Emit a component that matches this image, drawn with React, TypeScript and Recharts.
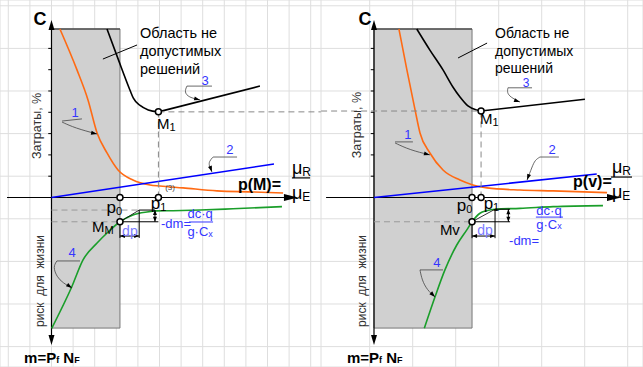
import React from "react";
import {
  ComposedChart,
  Line,
  XAxis,
  YAxis,
  CartesianGrid,
  ReferenceArea,
  ReferenceLine,
  ReferenceDot,
} from "recharts";

type P = { x: number; y: number };

// units: one grid cell; x = 0 on the cost axis, y = 0 on the p axis (cost up, risk down)

// ---- left panel: p(M) ----
const costM: P[] = [
  { x: 0.39, y: 7.91 }, { x: 1.18, y: 5.99 }, { x: 1.69, y: 4.58 }, { x: 2.11, y: 3.03 },
  { x: 2.57, y: 2.09 }, { x: 3.08, y: 1.29 }, { x: 3.77, y: 0.82 }, { x: 4.56, y: 0.59 },
  { x: 5.02, y: 0.54 }, { x: 6.09, y: 0.45 }, { x: 7.66, y: 0.31 }, { x: 9.33, y: 0.26 },
  { x: 10.72, y: 0.21 },
];
const totalM: P[] = [
  { x: 2.57, y: 7.91 }, { x: 3.1, y: 6.46 }, { x: 3.63, y: 5.05 }, { x: 3.79, y: 4.66 },
  { x: 4.1, y: 4.32 }, { x: 4.48, y: 4.11 }, { x: 4.95, y: 4.02 },
];
const totalMTail: P[] = [{ x: 4.95, y: 4.02 }, { x: 9.65, y: 5.23 }];
const ratioM: P[] = [{ x: 0, y: 0 }, { x: 10.3, y: 1.57 }];
const riskM: P[] = [
  { x: 0.01, y: -6.14 }, { x: 0.94, y: -4.19 }, { x: 1.46, y: -2.93 }, { x: 2.11, y: -2.14 },
  { x: 2.62, y: -1.62 }, { x: 3.17, y: -1.14 }, { x: 3.77, y: -0.82 }, { x: 4.42, y: -0.68 },
  { x: 4.88, y: -0.63 }, { x: 5.63, y: -0.62 }, { x: 6.88, y: -0.59 }, { x: 8.4, y: -0.53 },
  { x: 10.67, y: -0.43 },
];
// p0, p1, M_M, M1
const pointsM: P[] = [{ x: 3.17, y: 0 }, { x: 4.95, y: 0 }, { x: 3.17, y: -1.14 }, { x: 4.95, y: 4.02 }];

// ---- right panel: p(v) ----
const costV: P[] = [
  { x: 1.16, y: 7.91 }, { x: 1.53, y: 5.99 }, { x: 1.91, y: 4.11 }, { x: 2.14, y: 3.03 },
  { x: 2.6, y: 2.09 }, { x: 3.21, y: 1.29 }, { x: 4.0, y: 0.82 }, { x: 4.6, y: 0.59 },
  { x: 5.26, y: 0.45 }, { x: 6.79, y: 0.35 }, { x: 8.33, y: 0.31 }, { x: 10.84, y: 0.23 },
];
const totalV: P[] = [
  { x: 1.99, y: 7.91 }, { x: 2.6, y: 6.92 }, { x: 3.21, y: 5.99 }, { x: 3.67, y: 5.19 },
  { x: 4.0, y: 4.72 }, { x: 4.37, y: 4.3 }, { x: 4.78, y: 4.11 }, { x: 4.98, y: 4.06 },
];
const totalVTail: P[] = [{ x: 4.98, y: 4.06 }, { x: 9.81, y: 4.61 }];
const ratioV: P[] = [{ x: 0, y: 0 }, { x: 10.36, y: 1.1 }];
const riskV: P[] = [
  { x: 2.34, y: -6.14 }, { x: 2.84, y: -4.66 }, { x: 3.3, y: -3.4 }, { x: 3.85, y: -2.23 },
  { x: 4.31, y: -1.53 }, { x: 4.59, y: -1.1 }, { x: 4.93, y: -0.74 }, { x: 5.24, y: -0.62 },
  { x: 5.63, y: -0.55 }, { x: 6.79, y: -0.51 }, { x: 8.33, y: -0.43 }, { x: 10.65, y: -0.38 },
];
// p0, p1, Mv, M1
const pointsV: P[] = [{ x: 4.56, y: 0 }, { x: 4.98, y: 0 }, { x: 4.56, y: -1.14 }, { x: 4.98, y: 4.06 }];

// leader hooks for curve numbers 1..4
const hooksM: P[][] = [
  [{ x: 0.49, y: 3.54 }, { x: 1.09, y: 3.26 }, { x: 2.11, y: 2.98 }],
  [{ x: 7.48, y: 1.9 }, { x: 7.3, y: 1.7 }, { x: 7.29, y: 1.5 }, { x: 7.43, y: 1.2 }],
  [{ x: 6.27, y: 5.23 }, { x: 6.15, y: 4.95 }, { x: 6.35, y: 4.7 }, { x: 6.88, y: 4.58 }],
  [{ x: 0.25, y: -2.98 }, { x: 0.07, y: -3.26 }, { x: 0.25, y: -3.73 }, { x: 0.53, y: -4.01 }, { x: 0.95, y: -4.25 }],
];
const hooksV: P[][] = [
  [{ x: 0.98, y: 2.56 }, { x: 1.67, y: 2.23 }, { x: 2.6, y: 2.0 }],
  [{ x: 7.72, y: 1.9 }, { x: 7.49, y: 1.76 }, { x: 7.35, y: 1.43 }, { x: 7.12, y: 0.82 }],
  [{ x: 6.23, y: 5.15 }, { x: 6.19, y: 4.93 }, { x: 6.33, y: 4.72 }, { x: 6.79, y: 4.48 }],
  [{ x: 2.14, y: -3.4 }, { x: 2.23, y: -3.87 }, { x: 2.47, y: -4.34 }, { x: 2.84, y: -4.67 }],
];

const costTicks = [1, 2, 3, 4, 5, 6, 7];
const gridY = [-7, -6, -5, -4, -3, -2, -1, 0, 1, 2, 3, 4, 5, 6, 7, 8, 9];
const gridXM = [-2, -1, 0, 1, 2, 3, 4, 5, 6, 7, 8, 9, 10, 11, 12];
const gridXV = [-2.2, -1.2, -0.2, 0.8, 1.8, 2.8, 3.8, 4.8, 5.8, 6.8, 7.8, 8.8, 9.8, 10.8, 11.8];

const FONT = "'Liberation Sans', Arial, Helvetica, sans-serif";
const BLUE = "#3535ff";
const Y_DOMAIN: [number, number] = [-7.958, 9.272];
const RISK_LABEL = "риск\u00a0\u00a0для\u00a0\u00a0жизни";

function txt(key: string, x: number, y: number, content: React.ReactNode, o: any = {}) {
  const { size = 14, color = "#000", weight = "normal", anchor = "start", rotate = 0 } = o;
  return (
    <ReferenceDot
      key={key}
      x={x}
      y={y}
      r={0}
      ifOverflow="visible"
      shape={(p: any) => (
        <text
          x={p.cx}
          y={p.cy}
          fontSize={size}
          fill={color}
          fontWeight={weight}
          textAnchor={anchor}
          dominantBaseline="central"
          fontFamily={FONT}
          transform={rotate ? `rotate(${rotate} ${p.cx} ${p.cy})` : undefined}
        >
          {content}
        </text>
      )}
    />
  );
}

function seg(key: string, x1: number, y1: number, x2: number, y2: number, stroke = "#000", w = 1, dash?: string) {
  return (
    <ReferenceLine
      key={key}
      segment={[{ x: x1, y: y1 }, { x: x2, y: y2 }]}
      stroke={stroke}
      strokeWidth={w}
      strokeDasharray={dash}
      ifOverflow="visible"
    />
  );
}

function head(key: string, x: number, y: number, angle: number, len = 10, half = 3.5) {
  return (
    <ReferenceDot
      key={key}
      x={x}
      y={y}
      r={0}
      ifOverflow="visible"
      shape={(p: any) => (
        <path
          d={`M0,0 L${-len},${-half} L${-len},${half} Z`}
          transform={`translate(${p.cx},${p.cy}) rotate(${angle})`}
          fill="#000"
        />
      )}
    />
  );
}

function ring(key: string, pt: P) {
  return (
    <ReferenceDot key={key} x={pt.x} y={pt.y} r={3} fill="#fff" stroke="#000" strokeWidth={1.5} ifOverflow="visible" />
  );
}

function curve(key: string, data: P[], stroke: string, w = 1.6, type: any = "monotone") {
  return (
    <Line
      key={key}
      data={data}
      dataKey="y"
      type={type}
      stroke={stroke}
      strokeWidth={w}
      dot={false}
      activeDot={false}
      isAnimationActive={false}
    />
  );
}

function sub(main: string, s: string, size = 16, subSize = 10) {
  return [
    <tspan key="m" fontSize={size}>{main}</tspan>,
    <tspan key="s" fontSize={subSize} dy={4}>{s}</tspan>,
  ];
}

const mPfNF = [
  "m=P",
  <tspan key="f" fontSize={9} dy={3}>f</tspan>,
  <tspan key="n" dy={-3}>{"\u00a0N"}</tspan>,
  <tspan key="F" fontSize={9} dy={3}>F</tspan>,
];

function frame(key: string, xEnd: number, xStart: number, rectRight: number) {
  return [
    <ReferenceArea key={key + "a"} x1={0} x2={rectRight} y1={-6.13} y2={7.91} fill="#d0d0d0" fillOpacity={1} stroke="#777" strokeWidth={1} ifOverflow="visible" />,
    seg(key + "top", 0, 7.91, rectRight, 7.91, "#555", 1.3),
    seg(key + "ya", 0, -6.5, 0, 8.05, "#000", 1.2),
    head(key + "yh1", 0, 8.33, -90, 10, 3),
    head(key + "yh2", 0, -6.92, 90, 10, 3),
    seg(key + "xa", xStart, 0, xEnd - 0.4, 0, "#000", 1.2),
    head(key + "xh", xEnd, 0, 0, 14, 3.5),
    ...costTicks.map((t) => seg(key + "t" + t, -0.15, t, 0, t, "#000", 1)),
  ];
}

function hooks(key: string, list: P[][]) {
  return list.map((h, i) => curve(key + i, h, "#444", 0.8, "basis"));
}

function LeftPanel() {
  return (
    <ComposedChart width={321} height={367} margin={{ top: 0, right: 0, bottom: 0, left: 0 }}>
      <XAxis type="number" dataKey="x" domain={[-2.384, 12.477]} ticks={gridXM} allowDataOverflow hide />
      <YAxis type="number" dataKey="y" domain={Y_DOMAIN} ticks={gridY} allowDataOverflow hide />
      <CartesianGrid stroke="#dedede" strokeWidth={1} />
      {frame("l", 11.41, -2.06, 3.17)}
      {curve("c1", costM, "#ff6a13")}
      {curve("c3", totalM, "#000")}
      {curve("c3t", totalMTail, "#000", 1.6, "linear")}
      {curve("c2", ratioM, "#0000ff", 1.6, "linear")}
      {curve("c4", riskM, "#1a9e2a")}
      {hooks("hm", hooksM)}
      {seg("ln1", 0.49, 3.59, 1.41, 3.69, "#444", 0.8)}
      {seg("ln2", 7.48, 1.9, 8.59, 1.9, "#444", 0.8)}
      {seg("ln3", 6.27, 5.23, 7.43, 5.23, "#444", 0.8)}
      {seg("ln4", 0.25, -2.98, 1.32, -2.98, "#444", 0.8)}
      {head("ah1", 2.11, 2.98, 12, 6, 2)}
      {head("ah2", 7.43, 1.2, 70, 6, 2)}
      {head("ah3", 6.88, 4.58, 15, 6, 2)}
      {head("ah4", 0.95, -4.25, 35, 6, 2)}
      {seg("lead", 2.38, 6.5, 3.96, 7.16, "#000", 1)}
      {seg("d1", 0, -0.59, 4.06, -0.59, "#999", 1, "6 4")}
      {seg("d2", 0, -1.14, 3.17, -1.14, "#999", 1, "6 4")}
      {seg("d3", 4.95, 4.02, 12.47, 4.02, "#888", 1, "6 4")}
      {seg("d4", 4.95, 0, 4.95, 4.02, "#888", 1, "6 4")}
      {seg("k1", 3.17, -1.14, 4.95, -1.14, "#000", 1)}
      {seg("k2", 4.06, -0.59, 4.79, -0.59, "#000", 1)}
      {seg("k3", 4.06, -0.59, 4.06, -1.9, "#000", 1)}
      {seg("k4", 3.17, -1.14, 3.17, -1.9, "#000", 1)}
      {seg("k5", 3.17, -1.81, 4.06, -1.81, "#000", 1)}
      {head("k5a", 3.17, -1.81, 180, 5, 2)}
      {head("k5b", 4.06, -1.81, 0, 5, 2)}
      {seg("k6", 4.79, -0.59, 4.79, -1.14, "#000", 1)}
      {head("k6a", 4.79, -0.59, -90, 5, 2)}
      {head("k6b", 4.79, -1.14, 90, 5, 2)}
      {seg("k7", 3.17, -1.14, 4.06, -0.59, "#000", 0.8)}
      {pointsM.map((p, i) => ring("pm" + i, p))}
      {txt("C", -0.53, 8.38, "C", { size: 18, weight: "bold", anchor: "middle" })}
      {txt("o1", 4.1, 7.72, "Область не", { size: 14.5 })}
      {txt("o2", 4.1, 6.88, "допустимых", { size: 14.5 })}
      {txt("o3", 4.1, 6.03, "решений", { size: 14.5 })}
      {txt("n1", 1.09, 4.0, "1", { size: 13, color: BLUE, anchor: "middle" })}
      {txt("n2", 8.26, 2.26, "2", { size: 13, color: BLUE, anchor: "middle" })}
      {txt("n3", 7.11, 5.5, "3", { size: 13, color: BLUE, anchor: "middle" })}
      {txt("n4", 0.95, -2.57, "4", { size: 13, color: BLUE, anchor: "middle" })}
      {txt("pm", 8.63, 0.63, "p(M)=", { size: 16, weight: "bold" })}
      {txt("mr", 11.13, 1.4, sub("μ", "R", 18, 12))}
      {seg("fr", 11.13, 0.92, 11.97, 0.92, "#000", 1.2)}
      {txt("me", 11.13, 0.2, sub("μ", "E", 18, 12))}
      {txt("t3", 5.49, 0.45, "(3)", { size: 8, color: "#444", anchor: "middle" })}
      {txt("za", -0.67, 3.36, "Затраты, %", { size: 12.5, color: "#333", anchor: "middle", rotate: -90 })}
      {txt("ri", -0.53, -3.92, RISK_LABEL, { size: 12, color: "#333", anchor: "middle", rotate: -90 })}
      {txt("p0", 2.55, -0.45, sub("p", "0", 17, 11))}
      {txt("p1", 4.6, -0.26, sub("p", "1", 17, 11))}
      {txt("mm", 1.88, -1.34, sub("M", "M", 15, 11))}
      {txt("m1", 4.88, 3.5, sub("M", "1", 15, 11))}
      {txt("dp", 3.63, -1.57, "dp", { color: "#7c7cff", anchor: "middle" })}
      {txt("dm", 5.07, -1.24, "-dm=", { size: 13, color: BLUE })}
      {txt("dc", 6.88, -0.77, "dc·q", { size: 13, color: BLUE, anchor: "middle" })}
      {seg("frd", 6.37, -1.15, 7.48, -1.15, BLUE, 1)}
      {txt("gc", 6.88, -1.6, ["g·C", <tspan key="x" fontSize={9} dy={2}>x</tspan>], { size: 13, color: BLUE, anchor: "middle" })}
      {txt("mf", -1.27, -7.49, mPfNF, { size: 15, weight: "bold" })}
    </ComposedChart>
  );
}

function RightPanel() {
  return (
    <ComposedChart width={322} height={367} margin={{ top: 0, right: 0, bottom: 0, left: 0 }}>
      <XAxis type="number" dataKey="x" domain={[-2.465, 12.512]} ticks={gridXV} allowDataOverflow hide />
      <YAxis type="number" dataKey="y" domain={Y_DOMAIN} ticks={gridY} allowDataOverflow hide />
      <CartesianGrid stroke="#dedede" strokeWidth={1} />
      {frame("r", 11.49, -2.23, 4.56)}
      {curve("c1", costV, "#ff6a13")}
      {curve("c3", totalV, "#000")}
      {curve("c3t", totalVTail, "#000", 1.6, "linear")}
      {curve("c2", ratioV, "#0000ff", 1.6, "linear")}
      {curve("c4", riskV, "#1a9e2a")}
      {hooks("hv", hooksV)}
      {seg("ln1", 0.98, 2.61, 1.81, 2.61, "#444", 0.8)}
      {seg("ln2", 7.72, 1.9, 8.6, 1.9, "#444", 0.8)}
      {seg("ln3", 6.23, 5.15, 7.35, 5.15, "#444", 0.8)}
      {seg("ln4", 2.14, -3.4, 3.21, -3.4, "#444", 0.8)}
      {head("ah1", 2.6, 2.0, 15, 6, 2)}
      {head("ah2", 7.12, 0.82, 110, 6, 2)}
      {head("ah3", 6.79, 4.48, 20, 6, 2)}
      {head("ah4", 2.84, -4.67, 45, 6, 2)}
      {seg("lead", 3.91, 6.55, 5.26, 7.25, "#000", 1)}
      {seg("d2", 0, -1.14, 4.56, -1.14, "#999", 1, "6 4")}
      {seg("d3", -2.46, 4.06, 4.98, 4.06, "#888", 1, "6 4")}
      {seg("d4", 4.98, 0, 4.98, 4.06, "#888", 1, "6 4")}
      {seg("k1", 4.56, -1.14, 6.33, -1.14, "#000", 1)}
      {seg("k2", 5.63, -0.55, 6.33, -0.55, "#000", 1)}
      {seg("k3", 5.63, -0.55, 5.63, -1.91, "#000", 1)}
      {seg("k4", 4.56, -1.14, 4.56, -1.91, "#000", 1)}
      {seg("k5", 4.56, -1.81, 5.63, -1.81, "#000", 1)}
      {head("k5a", 4.56, -1.81, 180, 5, 2)}
      {head("k5b", 5.63, -1.81, 0, 5, 2)}
      {seg("k6", 6.25, -0.55, 6.25, -1.14, "#000", 1)}
      {head("k6a", 6.25, -0.55, -90, 5, 2)}
      {head("k6b", 6.25, -1.14, 90, 5, 2)}
      {seg("k7", 4.56, -1.14, 5.63, -0.55, "#000", 0.8)}
      {pointsV.map((p, i) => ring("pv" + i, p))}
      {txt("C", -0.42, 8.38, "C", { size: 18, weight: "bold", anchor: "middle" })}
      {txt("o1", 5.63, 7.72, "Область не", { size: 14 })}
      {txt("o2", 5.63, 6.9, "допустимых", { size: 14 })}
      {txt("o3", 5.63, 6.1, "решений", { size: 14 })}
      {txt("n1", 1.58, 2.96, "1", { size: 13, color: BLUE, anchor: "middle" })}
      {txt("n2", 8.28, 2.26, "2", { size: 13, color: BLUE, anchor: "middle" })}
      {txt("n3", 7.07, 5.38, "3", { size: 12, color: BLUE, anchor: "middle" })}
      {txt("n4", 2.93, -3.04, "4", { size: 13, color: BLUE, anchor: "middle" })}
      {txt("pv", 9.26, 0.73, "p(v)=", { size: 16, weight: "bold" })}
      {txt("mr", 11.07, 1.43, sub("μ", "R", 18, 12))}
      {seg("fr", 11.02, 0.96, 12.0, 0.96, "#000", 1.2)}
      {txt("me", 11.07, 0.24, sub("μ", "E", 18, 12))}
      {txt("za", -0.79, 3.4, "Затраты, %", { size: 12.5, color: "#333", anchor: "middle", rotate: -90 })}
      {txt("ri", -0.56, -3.92, RISK_LABEL, { size: 12, color: "#333", anchor: "middle", rotate: -90 })}
      {txt("p0", 3.85, -0.35, sub("p", "0", 17, 11))}
      {txt("p1", 5.1, -0.26, sub("p", "1", 17, 11))}
      {txt("mv", 3.53, -1.48, "Mv", { size: 15, anchor: "middle" })}
      {txt("m1", 4.93, 3.71, sub("M", "1", 15, 11))}
      {txt("dp", 5.16, -1.53, "dp", { color: "#7c7cff", anchor: "middle" })}
      {txt("dc", 8.14, -0.59, "dc·q", { size: 13, color: BLUE, anchor: "middle" })}
      {seg("frd", 7.53, -0.92, 8.79, -0.92, BLUE, 1)}
      {txt("gc", 8.14, -1.26, ["g·C", <tspan key="x" fontSize={9} dy={2}>x</tspan>], { size: 13, color: BLUE, anchor: "middle" })}
      {txt("dm", 6.98, -2.04, "-dm=", { size: 13, color: BLUE, anchor: "middle" })}
      {txt("mf", -1.26, -7.49, mPfNF, { size: 15, weight: "bold" })}
    </ComposedChart>
  );
}

export default function App() {
  return (
    <div style={{ width: 643, height: 367, display: "flex", background: "#fff", fontFamily: FONT }}>
      <style>{"body{margin:0;background:#fff}"}</style>
      <LeftPanel />
      <RightPanel />
    </div>
  );
}
